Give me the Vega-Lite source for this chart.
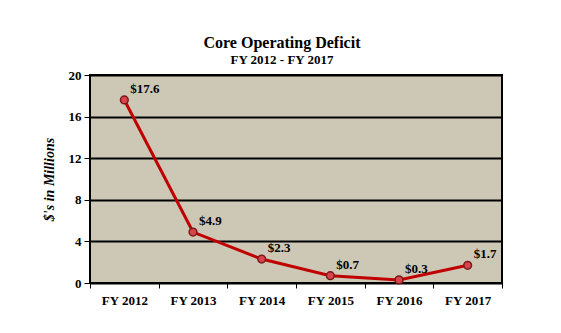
{
  "$schema": "https://vega.github.io/schema/vega-lite/v6.json",
  "autosize": "none",
  "width": 412,
  "height": 208,
  "padding": {"left": 90, "top": 75, "right": 59, "bottom": 50},
  "background": "white",
  "title": {
    "text": "Core Operating Deficit",
    "subtitle": "FY 2012 - FY 2017",
    "font": "Liberation Serif",
    "fontSize": 16,
    "fontWeight": "bold",
    "color": "black",
    "subtitleFont": "Liberation Serif",
    "subtitleFontSize": 13,
    "subtitleFontWeight": "bold",
    "subtitleColor": "black",
    "subtitlePadding": 3,
    "anchor": "middle",
    "offset": 2,
    "dx": -14
  },
  "config": {
    "view": {"fill": "#CDC7B5", "stroke": "black", "strokeWidth": 2},
    "axis": {
      "labelFont": "Liberation Serif",
      "labelFontSize": 13,
      "labelFontWeight": "bold",
      "labelColor": "black",
      "titleFont": "Liberation Serif",
      "titleColor": "black",
      "domainColor": "black",
      "tickColor": "black"
    }
  },
  "data": {
    "values": [
      {"year": "FY 2012", "value": 17.6, "label": "$17.6"},
      {"year": "FY 2013", "value": 4.9, "label": "$4.9"},
      {"year": "FY 2014", "value": 2.3, "label": "$2.3"},
      {"year": "FY 2015", "value": 0.7, "label": "$0.7"},
      {"year": "FY 2016", "value": 0.3, "label": "$0.3"},
      {"year": "FY 2017", "value": 1.7, "label": "$1.7"}
    ]
  },
  "encoding": {
    "x": {
      "field": "year",
      "type": "ordinal",
      "sort": null,
      "scale": {"paddingInner": 0, "paddingOuter": 0},
      "axis": {
        "title": null,
        "labelAngle": 0,
        "labelPadding": 6,
        "tickBand": "extent",
        "tickSize": 5,
        "domain": false,
        "grid": false
      }
    },
    "y": {
      "field": "value",
      "type": "quantitative",
      "scale": {"domain": [0, 20]},
      "axis": {
        "title": "$'s in Millions",
        "titleFontStyle": "italic",
        "titleFontWeight": "bold",
        "titleFontSize": 14,
        "titlePadding": 12,
        "values": [0, 4, 8, 12, 16, 20],
        "tickSize": 6,
        "labelPadding": 3,
        "grid": true,
        "gridColor": "black",
        "gridWidth": 2,
        "gridOpacity": 1,
        "domain": false
      }
    }
  },
  "layer": [
    {
      "mark": {"type": "line", "color": "#C00000", "strokeWidth": 3}
    },
    {
      "mark": {"type": "point", "filled": true, "fill": "#D9434B", "stroke": "#7A1A1A", "strokeWidth": 1.5, "size": 60, "opacity": 1}
    },
    {
      "mark": {"type": "text", "align": "left", "dx": 6, "dy": -11, "font": "Liberation Serif", "fontSize": 13, "fontWeight": "bold", "color": "black"},
      "encoding": {"text": {"field": "label"}}
    }
  ]
}
